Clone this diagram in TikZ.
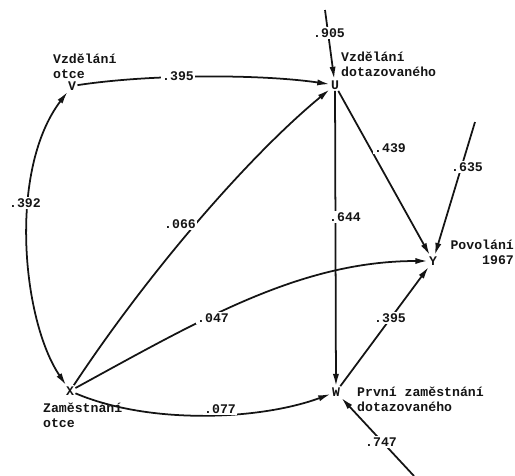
\documentclass[tikz,border=0pt]{standalone}
\usepackage{fontspec}
\setmonofont{Liberation Mono}
\usetikzlibrary{arrows.meta}
\definecolor{ink}{HTML}{141414}

\begin{document}
\begin{tikzpicture}[x=0.04cm,y=-0.04cm,
    font=\ttfamily\bfseries\fontsize{15}{17}\selectfont,
    color=ink,>={Latex[length=14pt,width=7pt]},
    var/.style={inner sep=1.5pt},
    coef/.style={fill=white,inner sep=1.5pt},
    tag/.style={inner sep=0pt},
    link/.style={line width=2pt}]
  \useasboundingbox (0,0) rectangle (515,475);

  % the five variables
  \node[var] (V) at (72,86) {V};
  \node[var] (U) at (335,85) {U};
  \node[var] (X) at (70,391) {X};
  \node[var] (W) at (336,392) {W};
  \node[var] (Y) at (433,261) {Y};

  % base of a two-line tag is its last line
  \node[tag,align=left,anchor=base west] (Vtag) at (53,78) {Vzdělání\\otce};
  \node[tag,align=left,anchor=base west] (Utag) at (341,76) {Vzdělání\\dotazovaného};
  \node[tag,align=right,anchor=base east] (Ytag) at (514,264) {Povolání\\1967};
  \node[tag,align=left,anchor=base west] (Wtag) at (357,411) {První zaměstnání\\dotazovaného};
  \node[tag,align=left,anchor=base west] (Xtag) at (43,427) {Zaměstnání\\otce};

  % residual paths come in from outside
  \coordinate (Uin) at (325,10);
  \coordinate (Yin) at (475,122);
  \coordinate (Win) at (414,476);

  \draw[link,->] (V) .. controls (150,74) and (260,74) .. (U);
  \draw[link,<->] (X) .. controls (22,320) and (8,170) .. (V);
  \draw[link,->] (X) .. controls (150,270) and (250,155) .. (U);
  \draw[link,->] (X) .. controls (200,320) and (300,261) .. (Y);
  \draw[link,->] (X) .. controls (150,425) and (260,420) .. (W);
  \draw[link,->] (U) -- (W);
  \draw[link,->] (U) -- (Y);
  \draw[link,->] (W) -- (Y);
  \draw[link,->] (Uin) -- (U);
  \draw[link,->] (Yin) -- (Y);
  \draw[link,->] (Win) -- (W);

  % path coefficients
  \node[coef] (pVU) at (178,76) {.395};
  \node[coef] (pXV) at (25,203) {.392};
  \node[coef] (pXU) at (180,224) {.066};
  \node[coef] (pXY) at (213,318) {.047};
  \node[coef] (pXW) at (220,409) {.077};
  \node[coef] (pUW) at (345,217) {.644};
  \node[coef] (pUY) at (390,148) {.439};
  \node[coef] (pWY) at (390,318) {.395};
  \node[coef] (pU) at (329,33) {.905};
  \node[coef] (pY) at (467,167) {.635};
  \node[coef] (pW) at (381,442) {.747};
\end{tikzpicture}
\end{document}
